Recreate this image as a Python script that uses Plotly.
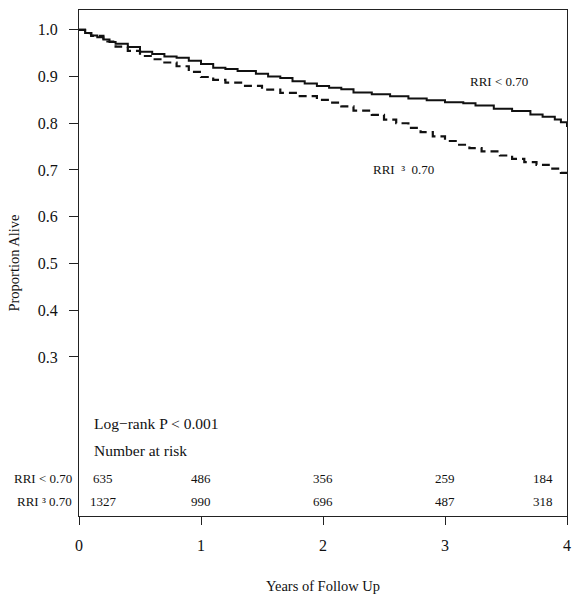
import plotly.graph_objects as go

# ---- data ----
low_rri_label = "RRI < 0.70"
high_rri_label = "RRI ³ 0.70"

low_t = [0, 0.05, 0.1, 0.15, 0.2, 0.25, 0.3, 0.4, 0.5, 0.6, 0.7, 0.8, 0.9, 1.0, 1.1, 1.2,
         1.3, 1.45, 1.55, 1.65, 1.75, 1.85, 1.95, 2.05, 2.15, 2.25, 2.4, 2.55, 2.7, 2.85,
         3.0, 3.15, 3.25, 3.4, 3.55, 3.7, 3.8, 3.9, 3.95, 4.0]
low_s = [1.0, 0.993, 0.988, 0.984, 0.979, 0.974, 0.970, 0.963, 0.953, 0.948, 0.943, 0.940,
         0.934, 0.927, 0.919, 0.916, 0.912, 0.906, 0.900, 0.897, 0.890, 0.885, 0.880, 0.876,
         0.873, 0.866, 0.862, 0.858, 0.853, 0.849, 0.845, 0.843, 0.838, 0.831, 0.826, 0.819,
         0.814, 0.808, 0.802, 0.792]

high_t = [0, 0.05, 0.1, 0.2, 0.3, 0.4, 0.5, 0.6, 0.7, 0.8, 0.9, 1.0, 1.1, 1.2, 1.35, 1.5,
          1.65, 1.8, 1.95, 2.05, 2.15, 2.25, 2.4, 2.5, 2.6, 2.7, 2.8, 2.9, 3.0, 3.1, 3.2,
          3.3, 3.45, 3.55, 3.65, 3.75, 3.85, 3.95, 4.0]
high_s = [1.0, 0.993, 0.987, 0.975, 0.964, 0.955, 0.944, 0.937, 0.930, 0.922, 0.910, 0.899,
          0.893, 0.887, 0.880, 0.872, 0.865, 0.858, 0.850, 0.844, 0.836, 0.827, 0.818, 0.808,
          0.800, 0.790, 0.781, 0.772, 0.762, 0.754, 0.747, 0.740, 0.731, 0.724, 0.717, 0.711,
          0.703, 0.694, 0.687]

risk_years = [0, 1, 2, 3, 4]
risk_low = [635, 486, 356, 259, 184]
risk_high = [1327, 990, 696, 487, 318]

x_ticks = [0, 1, 2, 3, 4]
y_ticks = [0.3, 0.4, 0.5, 0.6, 0.7, 0.8, 0.9, 1.0]

FONT = "Liberation Serif, Times New Roman, serif"
INK = "#111111"

fig = go.Figure()
fig.add_trace(go.Scatter(x=low_t, y=low_s, mode="lines", line_shape="hv",
                         line=dict(color=INK, width=2), name=low_rri_label, showlegend=False))
fig.add_trace(go.Scatter(x=high_t, y=high_s, mode="lines", line_shape="hv",
                         line=dict(color=INK, width=2.2, dash="8px,5px"), name=high_rri_label,
                         showlegend=False))

ann = []
# curve labels
ann.append(dict(x=3.19, y=0.890, text=low_rri_label, showarrow=False, xanchor="left",
                font=dict(size=13, family=FONT, color=INK)))
ann.append(dict(x=2.39, y=0.701, text="RRI  ³  0.70", showarrow=False, xanchor="left",
                font=dict(size=13, family=FONT, color=INK)))
ann.append(dict(x=0.104, y=0.157, text="Log−rank P < 0.001", showarrow=False, xanchor="left",
                font=dict(size=15.5, family=FONT, color=INK)))
ann.append(dict(x=0.104, y=0.0987, text="Number at risk", showarrow=False, xanchor="left",
                font=dict(size=15.5, family=FONT, color=INK)))
# risk table (first and last columns shifted inside the frame for display)
display_shift = {0: 0.2, 4: -0.2}
row_y = [0.0407, -0.0087]
for yy, counts in zip(row_y, [risk_low, risk_high]):
    for yr, n in zip(risk_years, counts):
        ann.append(dict(x=yr + display_shift.get(yr, 0), y=yy, text=str(n), showarrow=False,
                        xanchor="center", font=dict(size=13, family=FONT, color=INK)))
for yy, lab in zip(row_y, [low_rri_label, high_rri_label]):
    ann.append(dict(x=-0.010, xref="paper", y=yy, text=lab, showarrow=False, xanchor="right",
                    font=dict(size=13, family=FONT, color=INK)))

fig.update_layout(
    width=581, height=600,
    margin=dict(l=79, r=14, t=9, b=80),
    paper_bgcolor="white", plot_bgcolor="white",
    font=dict(family=FONT, color=INK, size=15),
    annotations=ann,
    xaxis=dict(range=[0, 4], tickvals=x_ticks, ticktext=[str(v) for v in x_ticks],
               showgrid=False, zeroline=False, showline=True, linecolor="#222", linewidth=1.3,
               mirror=True, ticks="outside", ticklen=8, tickcolor="#222", tickwidth=1.3,
               tickfont=dict(size=16, family=FONT, color=INK), ticklabelstandoff=7,
               title=dict(text="Years of Follow Up", font=dict(size=14.5, family=FONT, color=INK),
                          standoff=27)),
    yaxis=dict(range=[-0.0405, 1.0424], tickvals=y_ticks, tickformat=".1f",
               showgrid=False, zeroline=False, showline=True, linecolor="#222", linewidth=1.3,
               mirror=True, ticks="outside", ticklen=9, tickcolor="#222", tickwidth=1.3,
               tickfont=dict(size=16, family=FONT, color=INK), ticklabelstandoff=8,
               title=dict(text="Proportion Alive", font=dict(size=14.5, family=FONT, color=INK),
                          standoff=14)),
)

fig.write_html("out.html", config={"displayModeBar": False},
               post_script="document.body.style.margin='0';document.body.style.overflow='hidden';")
